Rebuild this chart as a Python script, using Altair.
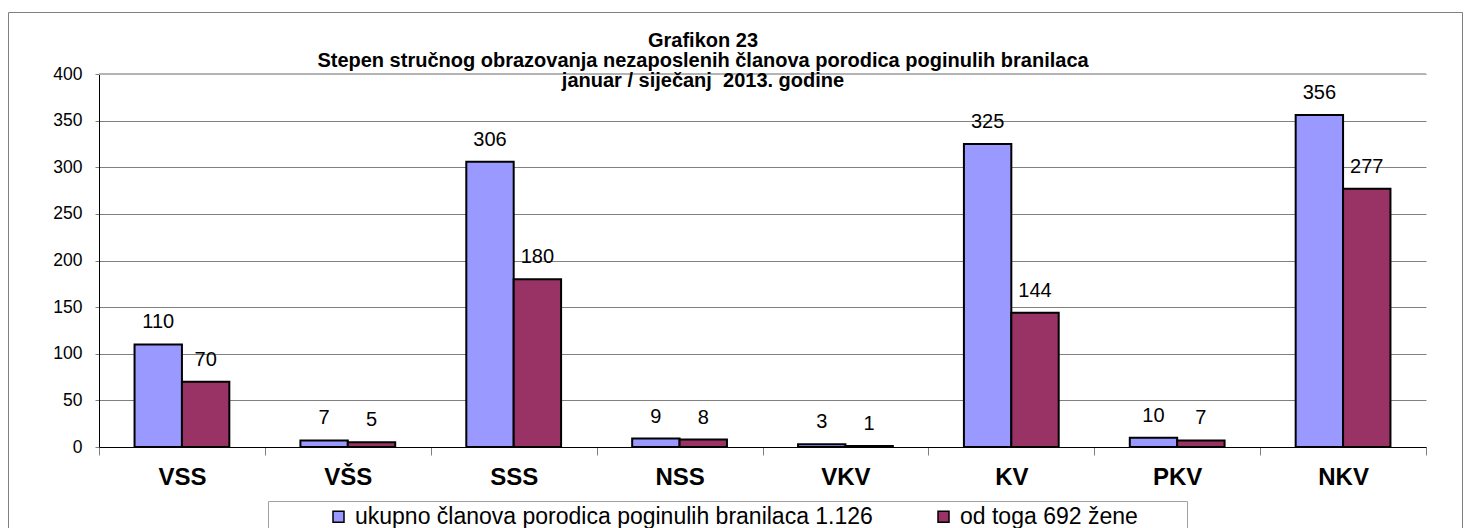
import altair as alt
import pandas as pd

categories = ["VSS", "VŠS", "SSS", "NSS", "VKV", "KV", "PKV", "NKV"]
series = ["ukupno članova porodica poginulih branilaca 1.126", "od toga 692 žene"]
ukupno = [110, 7, 306, 9, 3, 325, 10, 356]
zene = [70, 5, 180, 8, 1, 144, 7, 277]
y_ticks = [0, 50, 100, 150, 200, 250, 300, 350, 400]
title_lines = [
    "Grafikon 23",
    "Stepen stručnog obrazovanja nezaposlenih članova porodica poginulih branilaca",
    "januar / siječanj\u00a0 2013. godine",
]
colors = ["#9999FF", "#993366"]

rows = []
for c, a, b in zip(categories, ukupno, zene):
    rows.append({"kat": c, "serija": series[0], "v": a})
    rows.append({"kat": c, "serija": series[1], "v": b})
df = pd.DataFrame(rows)

FONT = "Liberation Sans"
W, H = 1327, 373

base = alt.Chart(df).encode(
    x=alt.X(
        "kat:N",
        sort=categories,
        scale=alt.Scale(paddingInner=0, paddingOuter=0),
        axis=alt.Axis(
            title=None, labelAngle=0, labelFontSize=24, labelFontWeight="bold",
            labelFont=FONT, labelColor="black", tickBand="extent", tickSize=8,
            tickColor="#808080", domainColor="black", labelPadding=10, grid=False,
        ),
    ),
    xOffset=alt.XOffset("serija:N", sort=series,
                        scale=alt.Scale(paddingInner=0, paddingOuter=0.75)),
    y=alt.Y(
        "v:Q",
        scale=alt.Scale(domain=[0, 400], nice=False),
        axis=alt.Axis(
            title=None, values=y_ticks, grid=True, gridColor="#808080",
            domainColor="black", tickColor="#808080", tickSize=4,
            labelFontSize=17.5, labelFont=FONT, labelColor="black", labelPadding=13,
        ),
    ),
)

bars = base.mark_bar(stroke="black", strokeWidth=2).encode(
    color=alt.Color(
        "serija:N", sort=series,
        scale=alt.Scale(domain=series, range=colors),
        legend=alt.Legend(
            title=None, orient="none", legendX=228, legendY=431,
            direction="horizontal", symbolType="square", symbolSize=121,
            symbolStrokeColor="black", symbolStrokeWidth=1.5, symbolOpacity=1,
            labelFontSize=23, labelFont=FONT, labelColor="black", labelOffset=5,
            columnPadding=59, padding=0, labelLimit=800,
        ),
    )
)

labels = base.mark_text(
    dy=-16, baseline="alphabetic", fontSize=20, font=FONT, color="black"
).encode(text="v:Q")

one = alt.Data(values=[{"a": 1}])

top_line = alt.Chart(one).mark_rule(color="#b4b4b4", strokeWidth=2).encode(
    y=alt.datum(400, type="quantitative", scale=alt.Scale(domain=[0, 400], nice=False))
)

frame = alt.Chart(one).mark_rect(
    fillOpacity=0, stroke="#808080", strokeWidth=1
).encode(
    x=alt.value(-90.5), x2=alt.value(1363.5), y=alt.value(-61.5), y2=alt.value(480)
)

legend_box = alt.Chart(one).mark_rect(
    fill="white", stroke="#a0a0a0", strokeWidth=1
).encode(
    x=alt.value(169.5), x2=alt.value(1088.5), y=alt.value(427.5), y2=alt.value(480)
)

title_ys = [-27, -7, 13]
title_layers = [
    alt.Chart(one).mark_text(
        fontSize=20, fontWeight="bold", font=FONT, color="black",
        align="center", baseline="alphabetic",
    ).encode(x=alt.value(604), y=alt.value(yy), text=alt.value(t))
    for t, yy in zip(title_lines, title_ys)
]

chart = alt.layer(frame, legend_box, top_line, bars, labels, *title_layers).properties(
    width=W, height=H,
    autosize=alt.AutoSizeParams(type="none"),
    padding={"left": 91, "top": 66, "right": 37, "bottom": 81},
).configure_view(stroke=None)

chart.save("out.html", embed_options={"renderer": "svg", "actions": False})
